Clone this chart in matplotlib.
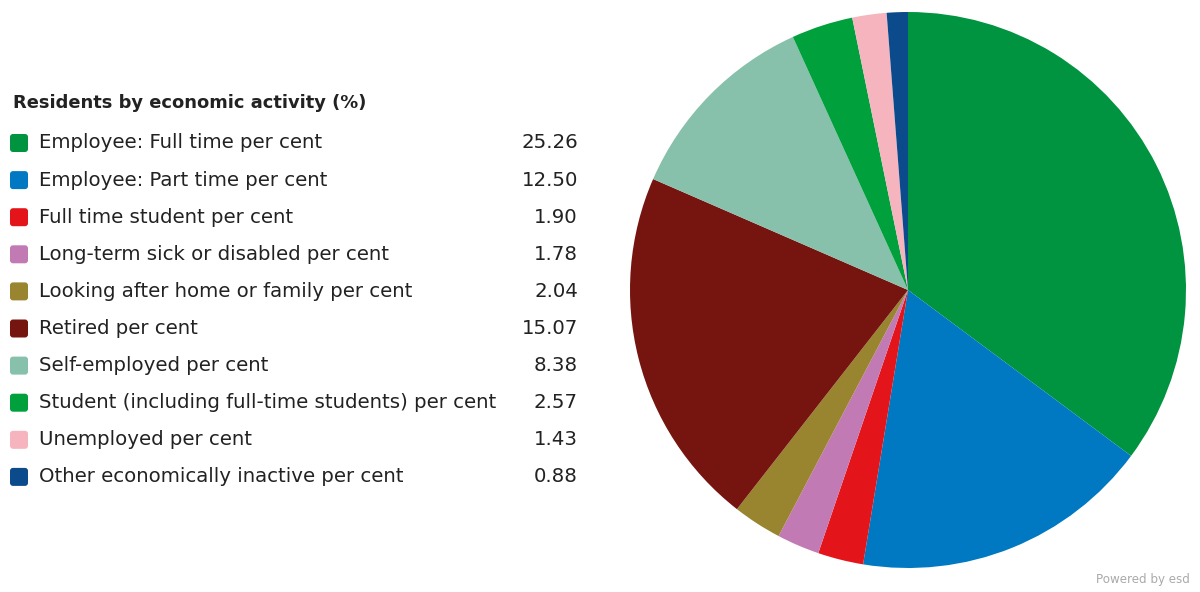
import matplotlib.pyplot as plt
from matplotlib.patches import FancyBboxPatch

# ---------------------------
# Data
# ---------------------------
labels = [
    "Employee: Full time per cent",
    "Employee: Part time per cent",
    "Full time student per cent",
    "Long-term sick or disabled per cent",
    "Looking after home or family per cent",
    "Retired per cent",
    "Self-employed per cent",
    "Student (including full-time students) per cent",
    "Unemployed per cent",
    "Other economically inactive per cent",
]
values = [25.26, 12.50, 1.90, 1.78, 2.04, 15.07, 8.38, 2.57, 1.43, 0.88]
colors = ["#009440", "#0079c2", "#e3151a", "#c27ab5", "#998430",
          "#76150f", "#87c0ab", "#00a03d", "#f5b4be", "#0b4a8b"]
title = "Residents by economic activity (%)"

W, H = 1200, 592
fig = plt.figure(figsize=(W / 100, H / 100), dpi=100)

# ---------------------------
# Pie (clockwise from top)
# ---------------------------
cx, cy, r = 908, 290, 278
ax = fig.add_axes([(cx - r) / W, (H - cy - r) / H, 2 * r / W, 2 * r / H])
ax.pie(values, colors=colors, startangle=90, counterclock=False,
       wedgeprops=dict(linewidth=0))
ax.set_xlim(-1, 1)
ax.set_ylim(-1, 1)
ax.set_aspect("equal")
ax.axis("off")

# ---------------------------
# Legend table on the left
# ---------------------------
lax = fig.add_axes([0, 0, 1, 1])
lax.set_xlim(0, W)
lax.set_ylim(H, 0)
lax.axis("off")

font = "DejaVu Sans"
lax.text(13, 103, title, fontsize=12.9, fontweight="bold", color="#222222",
         va="center", ha="left", family=font)

y0, dy = 143, 37.1
for i, (lab, val, col) in enumerate(zip(labels, values, colors)):
    y = y0 + i * dy
    box = FancyBboxPatch((10, y - 9), 18, 18,
                         boxstyle="round,pad=0,rounding_size=3",
                         facecolor=col, edgecolor="none")
    lax.add_patch(box)
    lax.text(39, y, lab, fontsize=14.2, color="#222222", va="center",
             ha="left", family=font)
    lax.text(578, y, f"{val:.2f}", fontsize=14.2, color="#222222",
             va="center", ha="right", family=font)

lax.text(1190, 580, "Powered by esd", fontsize=8.6, color="#aaaaaa",
         va="center", ha="right", family=font)

fig.savefig("out.png", dpi=100)
